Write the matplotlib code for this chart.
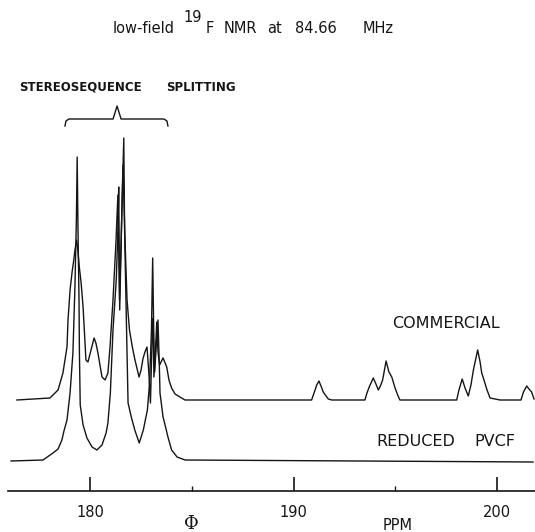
import matplotlib
matplotlib.use("Agg")
import matplotlib.pyplot as plt

# commercial sample: chemical shift (ppm) and height above its own baseline
commercial_ppm = [176.41, 178.03, 178.43, 178.67, 178.87, 178.92, 179.02, 179.12, 179.19, 179.26,
                  179.34, 179.41, 179.48, 179.56, 179.66, 179.80, 179.90, 180.05, 180.20, 180.29,
                  180.39, 180.59, 180.74, 180.88, 180.98, 181.13, 181.28, 181.37, 181.45, 181.52,
                  181.62, 181.72, 181.82, 181.94, 182.08, 182.21, 182.41, 182.51, 182.60, 182.70,
                  182.80, 182.90, 182.97, 183.05, 183.10, 183.14, 183.22, 183.28, 183.34, 183.42,
                  183.49, 183.59, 183.77, 183.88, 184.01, 184.18, 184.42, 184.67, 187.86, 190.89,
                  191.06, 191.14, 191.25, 191.39, 191.46, 191.71, 191.88, 193.51, 193.61, 193.72,
                  193.92, 194.05, 194.17, 194.27, 194.38, 194.55, 194.69, 194.83, 194.99, 195.14,
                  195.23, 198.02, 198.13, 198.29, 198.43, 198.59, 198.72, 198.84, 199.05, 199.17,
                  199.25, 199.36, 199.51, 199.66, 200.15, 201.18, 201.30, 201.46, 201.57, 201.70,
                  201.82]
commercial_int = [0, 2, 10, 27, 53, 80, 110, 128, 138, 150,
                  160, 148, 132, 118, 93, 40, 38, 50, 62, 57,
                  47, 23, 20, 27, 52, 100, 160, 205, 100, 150,
                  235, 160, 100, 70, 53, 40, 23, 30, 41, 48,
                  53, 25, -3, 60, 82, 23, 50, 78, 48, 35,
                  38, 42, 33, 20, 12, 6, 3, 0, 0, 0,
                  10, 15, 19, 12, 8, 1, 0, 0, 7, 13,
                  22, 16, 10, 14, 20, 39, 28, 23, 12, 4,
                  0, 0, 10, 21, 12, 4, 15, 30, 50, 38,
                  27, 20, 10, 2, 0, 0, 8, 14, 11, 8,
                  1]

# reduced PVCF: chemical shift (ppm) and height above its own baseline
reduced_ppm = [176.12, 177.69, 178.18, 178.43, 178.62, 178.72, 178.87, 179.02, 179.16, 179.26,
               179.33, 179.37, 179.41, 179.46, 179.48, 179.52, 179.66, 179.85, 180.10, 180.34,
               180.59, 180.79, 180.88, 181.00, 181.13, 181.29, 181.38, 181.41, 181.46, 181.55,
               181.66, 181.70, 181.78, 181.87, 182.03, 182.20, 182.42, 182.62, 182.82, 182.92,
               183.02, 183.08, 183.13, 183.18, 183.27, 183.34, 183.40, 183.44, 183.59, 183.69,
               183.83, 184.01, 184.28, 184.67, 201.77]
reduced_int = [0, 1, 8, 12, 21, 30, 41, 68, 108, 174,
               241, 304, 231, 161, 108, 56, 36, 23, 14, 11,
               16, 28, 38, 68, 131, 181, 236, 274, 151, 236,
               323, 231, 148, 58, 44, 31, 18, 31, 51, 76,
               131, 203, 131, 89, 121, 141, 101, 68, 44, 36,
               24, 11, 4, 1, -1]

commercial_offset = 61
major_ticks = [180, 190, 200]
minor_ticks = [185, 195]
tick_labels = ["180", "190", "200"]

W, H = 535, 532
fig = plt.figure(figsize=(W / 100, H / 100), dpi=100)
ax = fig.add_axes([0, 0, 1, 1])
ax.set_xlim(180 - 90 / 20.35, 200 + 38 / 20.35)
ax.set_ylim(-71, 461)
ax.axis("off")

ink = "#151515"
ax.plot(reduced_ppm, reduced_int, color=ink, lw=1.0)
ax.plot(commercial_ppm, [v + commercial_offset for v in commercial_int], color=ink, lw=1.0)

# ppm scale drawn like the original chart recorder axis
ax.plot([175.98, 201.87], [-30, -30], color=ink, lw=1.2)
ax.vlines(major_ticks, -30, -16, color=ink, lw=1.2)
ax.vlines(minor_ticks, -30, -25, color=ink, lw=1.0)
for t, lab in zip(major_ticks, tick_labels):
    ax.text(t, -56, lab, ha="center", va="baseline", fontsize=10.5, color=ink)
ax.text(185, -68, "Φ", ha="center", va="baseline", fontsize=13, color=ink,
        family="DejaVu Serif")
ax.text(195.1, -69, "PPM", ha="center", va="baseline", fontsize=10.5, color=ink)

# brace over the stereosequence region
bl, bapex, br = 178.77, 181.33, 183.83
d = 1 / 20.35
ax.plot([bl, bl + d, bl + 4 * d, bapex - 4 * d, bapex, bapex + 4 * d, br - 4 * d, br - d, br],
        [335, 340, 342, 342, 355, 342, 342, 340, 335], color=ink, lw=1.0)


def ftext(x, y, s, **kw):
    fig.text(x / W, 1 - y / H, s, ha="center", va="baseline", color=ink, **kw)


# title, placed word by word to follow the wide letter spacing
for x, s in [(144, "low-field"), (210, "F"), (240, "NMR"), (274, "at"), (316, "84.66"), (378, "MHz")]:
    ftext(x, 33, s, fontsize=10.5)
ftext(193, 22, "19", fontsize=10.5)

ftext(80, 91, "STEREOSEQUENCE", fontsize=8.5, fontweight="bold")
ftext(201, 91, "SPLITTING", fontsize=8.5, fontweight="bold")
ftext(446, 328, "COMMERCIAL", fontsize=11.5)
ftext(416, 446, "REDUCED", fontsize=11.5)
ftext(495, 446, "PVCF", fontsize=11.5)

fig.savefig("out.png", dpi=100, facecolor="white")
